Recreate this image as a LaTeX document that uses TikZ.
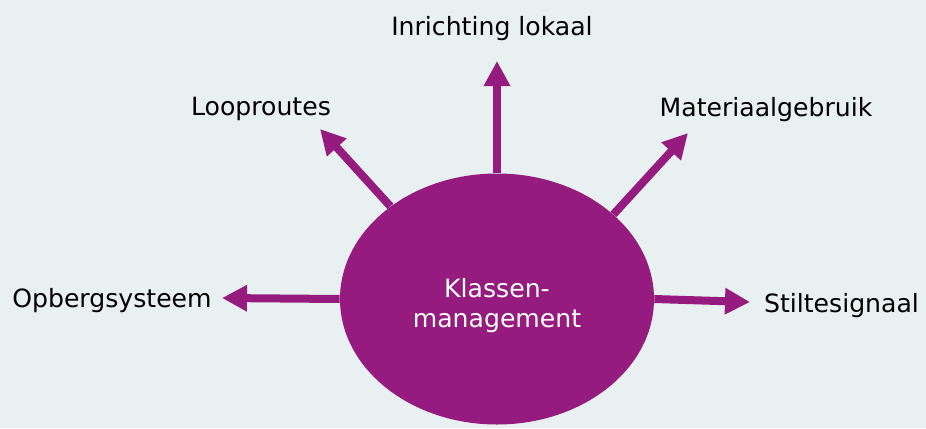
\documentclass[tikz,border=0pt]{standalone}
\usepackage{fontspec}
\setmainfont{DejaVu Sans}
\usepackage{tikz}
\usetikzlibrary{shapes.geometric,arrows.meta}
\definecolor{paars}{RGB}{149,28,126}
\definecolor{achtergrond}{RGB}{232,240,242}

\begin{document}
\begin{tikzpicture}
      \tikzstyle{ovaal}=[ellipse, fill=paars, minimum width=6.28cm, minimum height=5.02cm, inner sep=0pt]
      \tikzstyle{etiket}=[anchor=base, text=black, font=\fontsize{14.3}{17.2}\selectfont]
      \tikzstyle{pijl}=[-{Triangle[length=0.5cm,width=0.5cm]}, line width=0.16cm, draw=paars, fill=paars]

      \fill[achtergrond] (-9.94,-2.58) rectangle (8.58,5.98);
      \useasboundingbox (-9.94,-2.58) rectangle (8.58,5.98);

      \node[ovaal] (Klas) at (0,0) {};
      \node[text=white, align=center, font=\fontsize{14.3}{17.2}\selectfont] (KlasTekst) at (0,-0.13) {Klassen-\\management};

      \node[etiket] (Lokaal) at (-0.1,5.28) {Inrichting lokaal};
      \node[etiket] (Loop) at (-4.72,3.68) {Looproutes};
      \node[etiket] (Mat) at (5.38,3.66) {Materiaalgebruik};
      \node[etiket] (Opberg) at (-7.7,-0.16) {Opbergsysteem};
      \node[etiket] (Stilte) at (6.89,-0.26) {Stiltesignaal};

      \coordinate (LokaalPunt) at (0,4.76);
      \coordinate (LoopPunt) at (-3.54,3.40);
      \coordinate (MatPunt) at (3.82,3.32);
      \coordinate (OpbergPunt) at (-5.5,0.02);
      \coordinate (StiltePunt) at (5.06,-0.06);

      \draw[pijl] (Klas.north)--(LokaalPunt);
      \draw[pijl] (Klas.139)--(LoopPunt);
      \draw[pijl] (Klas.36)--(MatPunt);
      \draw[pijl] (Klas.180)--(OpbergPunt);
      \draw[pijl] (Klas.0)--(StiltePunt);

    \end{tikzpicture}
\end{document}
